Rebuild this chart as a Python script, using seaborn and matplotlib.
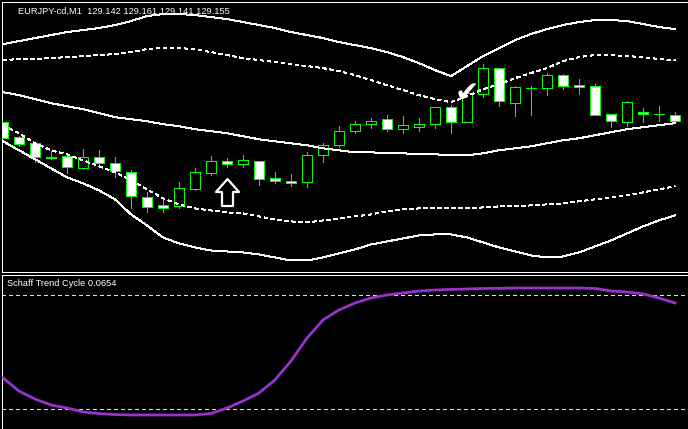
import numpy as np
import pandas as pd
import matplotlib
matplotlib.use("Agg")
import matplotlib.pyplot as plt
import seaborn as sns
from matplotlib.path import Path

# ---------------- data ----------------
symbol_label = "EURJPY-cd,M1  129.142 129.161 129.141 129.155"
indicator_label = "Schaff Trend Cycle 0.0654"

bar_index = list(range(43))
open_ = [129.147,129.117,129.105,129.078,129.079,129.055,129.077,129.065,129.047,128.997,
         128.981,128.979,129.013,129.045,129.069,129.063,129.069,129.035,129.029,129.027,
         129.081,129.101,129.129,129.143,129.153,129.133,129.137,129.143,129.177,129.147,
         129.203,129.255,129.185,129.215,129.215,129.241,129.221,129.219,129.163,129.147,
         129.167,129.163,129.161]
high = [129.147,129.119,129.105,129.089,129.081,129.093,129.091,129.077,129.051,129.007,
        128.995,129.027,129.055,129.079,129.075,129.081,129.069,129.047,129.043,129.087,
        129.105,129.139,129.149,129.155,129.161,129.159,129.155,129.177,129.181,129.213,
        129.263,129.255,129.219,129.219,129.245,129.243,129.233,129.223,129.163,129.189,
        129.175,129.179,129.167]
low = [129.115,129.099,129.067,129.073,129.045,129.053,129.059,129.037,128.975,128.967,
       128.967,128.975,129.011,129.041,129.057,129.057,129.021,129.025,129.019,129.017,
       129.067,129.097,129.125,129.135,129.129,129.125,129.129,129.135,129.125,129.147,
       129.197,129.179,129.159,129.161,129.201,129.213,129.203,129.161,129.137,129.139,
       129.147,129.149,129.149]
close = [129.115,129.103,129.077,129.076,129.057,129.077,129.065,129.049,128.999,128.977,
         128.975,129.015,129.047,129.069,129.063,129.071,129.033,129.029,129.025,129.081,
         129.101,129.129,129.143,129.149,129.133,129.141,129.143,129.177,129.147,129.205,
         129.255,129.189,129.217,129.215,129.241,129.219,129.217,129.161,129.149,129.187,
         129.163,129.163,129.149]

band_upper_outer = [129.303,129.309,129.315,129.321,129.327,129.331,129.335,129.341,129.349,129.359,
                    129.363,129.363,129.361,129.357,129.353,129.347,129.341,129.335,129.327,129.321,
                    129.315,129.307,129.301,129.295,129.287,129.277,129.265,129.251,129.239,129.259,
                    129.279,129.295,129.311,129.323,129.333,129.341,129.347,129.351,129.351,129.349,
                    129.343,129.337,129.333]
band_upper_inner = [129.271,129.273,129.273,129.275,129.277,129.279,129.281,129.283,129.287,129.293,
                    129.295,129.295,129.293,129.287,129.281,129.275,129.271,129.267,129.263,129.259,
                    129.255,129.249,129.241,129.231,129.221,129.211,129.201,129.193,129.187,129.199,
                    129.213,129.223,129.235,129.245,129.255,129.269,129.277,129.281,129.281,129.279,
                    129.277,129.273,129.271]
band_middle = [129.207,129.201,129.193,129.185,129.179,129.173,129.165,129.157,129.153,129.149,
               129.143,129.139,129.133,129.129,129.125,129.119,129.113,129.109,129.105,129.101,
               129.095,129.091,129.087,129.087,129.085,129.085,129.083,129.083,129.081,129.081,
               129.085,129.091,129.095,129.099,129.105,129.111,129.115,129.121,129.127,129.133,
               129.137,129.141,129.145]
band_lower_inner = [129.141,129.125,129.105,129.091,129.083,129.071,129.059,129.047,129.031,129.013,
                    128.995,128.983,128.975,128.971,128.967,128.965,128.959,128.953,128.949,128.947,
                    128.951,128.955,128.959,128.963,128.969,128.973,128.975,128.975,128.975,128.975,
                    128.977,128.979,128.979,128.981,128.983,128.985,128.989,128.993,128.997,129.001,
                    129.007,129.013,129.019]
band_lower_outer = [129.109,129.091,129.073,129.055,129.037,129.025,129.011,128.993,128.963,128.941,
                    128.917,128.905,128.897,128.891,128.889,128.887,128.883,128.877,128.871,128.871,
                    128.877,128.885,128.893,128.903,128.909,128.915,128.921,128.923,128.923,128.917,
                    128.907,128.897,128.889,128.881,128.877,128.879,128.887,128.899,128.911,128.925,
                    128.939,128.951,128.961]

stc = [31.8,22.6,17.0,12.8,10.7,7.9,6.8,6.1,5.8,5.8,5.8,5.8,5.8,6.8,10.7,15.6,21.2,30.4,43.7,59.8,
       72.5,79.5,84.4,87.9,90.0,91.4,92.8,93.5,93.9,94.2,94.6,94.7,94.9,94.9,94.9,94.9,94.9,94.6,
       92.8,92.1,90.7,87.9,84.4]
stc_levels = [10, 90]

buy_arrow_bar = 14
buy_arrow_price = 129.008
check_bar = 29
check_price = 129.203

# ---------------- figure ----------------
W, H = 688, 429
PX = 0.72  # one pixel in points
fig = plt.figure(figsize=(W / 100, H / 100), dpi=100, facecolor="black")
ax1 = fig.add_axes([2 / W, 1 - 271.5 / H, 1 - 2 / W, (271.5 - 2) / H])
ax2 = fig.add_axes([2 / W, 0, 1 - 2 / W, (H - 274.5) / H])

for ax in (ax1, ax2):
    ax.set_facecolor("black")
    ax.set_xticks([])
    ax.set_yticks([])
    ax.set_xlim(-0.0625, 42.8125)
    for s in ax.spines.values():
        s.set_color("white")
        s.set_linewidth(PX)
        s.set_antialiased(False)
    ax.spines["right"].set_visible(False)
ax2.spines["bottom"].set_visible(False)

ax1.set_ylim(128.849, 129.387)
ax2.set_ylim(-4.04, 104.39)

df = pd.DataFrame({"i": bar_index, "open": open_, "high": high, "low": low, "close": close})
green = "#00ff00"

# wicks
ax1.vlines(df["i"], df["low"], df["high"], color=green, linewidth=PX, zorder=2,
           antialiased=False)
# bodies
bottoms = np.minimum(df["open"], df["close"])
heights = np.abs(df["close"] - df["open"])
fills = ["white" if c < o else "black" for o, c in zip(df["open"], df["close"])]
ax1.bar(df["i"], heights, bottom=bottoms, width=0.64, color=fills,
        edgecolor=green, linewidth=PX, zorder=3, antialiased=False)

# bands
bands = [(band_upper_outer, "-"), (band_upper_inner, "--"), (band_middle, "-"),
         (band_lower_inner, "--"), (band_lower_outer, "-")]
for vals, ls in bands:
    sns.lineplot(x=bar_index, y=vals, ax=ax1, color="white", linewidth=PX, zorder=4)
    line = ax1.lines[-1]
    line.set_antialiased(False)
    if ls == "--":
        line.set_dashes((4, 3))

# up arrow marker
arrow_verts = [(0, 13.5), (11.5, 0.5), (5.5, 0.5), (5.5, -13.5), (-5.5, -13.5),
               (-5.5, 0.5), (-11.5, 0.5), (0, 13.5)]
arrow_path = Path(arrow_verts, [Path.MOVETO] + [Path.LINETO] * 6 + [Path.CLOSEPOLY])
ax1.scatter([buy_arrow_bar], [buy_arrow_price], marker=arrow_path, s=(27 * 0.72) ** 2,
            facecolor="black", edgecolor="white", linewidth=1.6, zorder=6)
# check mark
ax1.text(check_bar, check_price, "\u2714", color="white", fontsize=21,
         ha="center", va="center", family="DejaVu Sans", zorder=6)

fig.text(18 / W, 1 - 11 / H, symbol_label, color="white", fontsize=6.7,
         family="Liberation Sans", va="center", ha="left", zorder=1)

# STC pane
for lv in stc_levels:
    ax2.axhline(lv, color="#ffff00", linewidth=PX * 1.2, dashes=(2.5, 2.5), zorder=2,
                antialiased=False)
sns.lineplot(x=bar_index, y=stc, ax=ax2, color="#9932cc", linewidth=2.0, zorder=3)
ax2.text(0.0075, 1 - (284 - 274.5) / (H - 274.5), indicator_label,
         transform=ax2.transAxes, color="white", fontsize=6.7, family="Liberation Sans",
         va="center", ha="left")

for ax in (ax1, ax2):
    ax.set_xlabel("")
    ax.set_ylabel("")

fig.savefig("out.png", dpi=100, facecolor="black")
